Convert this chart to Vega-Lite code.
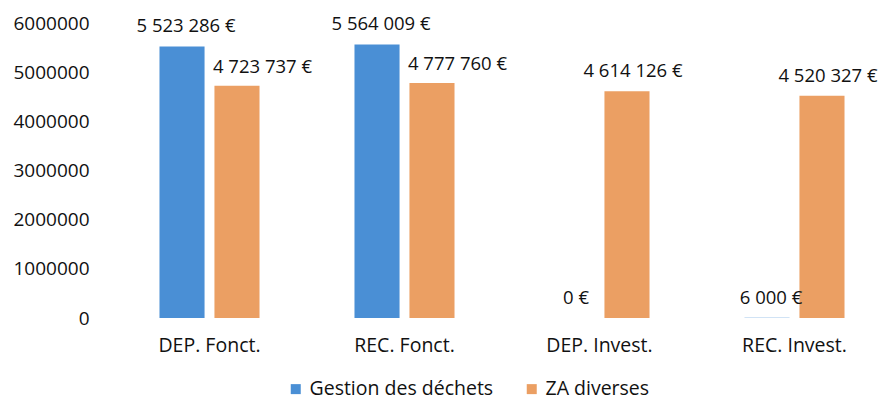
{
  "$schema": "https://vega.github.io/schema/vega-lite/v6.json",
  "width": 780,
  "height": 295,
  "autosize": {"type": "none"},
  "padding": {"left": 112, "top": 23, "right": 0, "bottom": 88},
  "background": "white",
  "config": {
    "view": {"stroke": null},
    "font": "Open Sans",
    "locale": {
      "number": {"decimal": ",", "thousands": " ", "grouping": [3], "currency": ["", " €"]}
    }
  },
  "data": {
    "values": [
      {"cat": "DEP. Fonct.", "series": "Gestion des déchets", "value": 5523286},
      {"cat": "DEP. Fonct.", "series": "ZA diverses", "value": 4723737},
      {"cat": "REC. Fonct.", "series": "Gestion des déchets", "value": 5564009},
      {"cat": "REC. Fonct.", "series": "ZA diverses", "value": 4777760},
      {"cat": "DEP. Invest.", "series": "Gestion des déchets", "value": 0},
      {"cat": "DEP. Invest.", "series": "ZA diverses", "value": 4614126},
      {"cat": "REC. Invest.", "series": "Gestion des déchets", "value": 6000},
      {"cat": "REC. Invest.", "series": "ZA diverses", "value": 4520327}
    ]
  },
  "encoding": {
    "x": {
      "field": "cat",
      "type": "nominal",
      "sort": ["DEP. Fonct.", "REC. Fonct.", "DEP. Invest.", "REC. Invest."],
      "scale": {"paddingInner": 0.487, "paddingOuter": 0.2435},
      "axis": {
        "title": null,
        "labelAngle": 0,
        "domain": false,
        "ticks": false,
        "labelFontSize": 19.5,
        "labelPadding": 18,
        "labelColor": "#111111"
      }
    },
    "xOffset": {
      "field": "series",
      "type": "nominal",
      "sort": ["Gestion des déchets", "ZA diverses"],
      "scale": {"paddingInner": 0.18, "paddingOuter": 0}
    },
    "y": {
      "field": "value",
      "type": "quantitative",
      "scale": {"domain": [0, 6000000]},
      "axis": {
        "title": null,
        "grid": false,
        "domain": false,
        "ticks": false,
        "values": [0, 1000000, 2000000, 3000000, 4000000, 5000000, 6000000],
        "format": "d",
        "labelFontSize": 19,
        "labelPadding": 23,
        "labelColor": "#111111"
      }
    }
  },
  "layer": [
    {
      "mark": {"type": "bar"},
      "encoding": {
        "color": {
          "field": "series",
          "type": "nominal",
          "scale": {"domain": ["Gestion des déchets", "ZA diverses"], "range": ["#4a8fd5", "#eb9f63"]},
          "legend": {
            "orient": "none",
            "legendX": 174,
            "legendY": 356,
            "direction": "horizontal",
            "title": null,
            "labelFontSize": 19.5,
            "labelColor": "#111111",
            "labelLimit": 400,
            "symbolType": "square",
            "symbolSize": 100,
            "symbolStrokeWidth": 0,
            "columnPadding": 28,
            "labelOffset": 4
          }
        }
      }
    },
    {
      "transform": [{"filter": "datum.series == 'Gestion des déchets'"}],
      "mark": {"type": "text", "align": "center", "baseline": "alphabetic", "dy": -14, "dx": 4, "fontSize": 18.5, "color": "#111111"},
      "encoding": {
        "text": {"field": "value", "type": "quantitative", "format": "$,.0f"}
      }
    },
    {
      "transform": [{"filter": "datum.series == 'ZA diverses' && (datum.cat == 'DEP. Fonct.' || datum.cat == 'REC. Fonct.')"}],
      "mark": {"type": "text", "align": "left", "baseline": "alphabetic", "dy": -13, "dx": -24, "fontSize": 18.5, "color": "#111111"},
      "encoding": {
        "text": {"field": "value", "type": "quantitative", "format": "$,.0f"}
      }
    },
    {
      "transform": [{"filter": "datum.series == 'ZA diverses' && (datum.cat == 'DEP. Invest.' || datum.cat == 'REC. Invest.')"}],
      "mark": {"type": "text", "align": "center", "baseline": "alphabetic", "dy": -14, "dx": 6, "fontSize": 18.5, "color": "#111111"},
      "encoding": {
        "text": {"field": "value", "type": "quantitative", "format": "$,.0f"}
      }
    }
  ]
}
